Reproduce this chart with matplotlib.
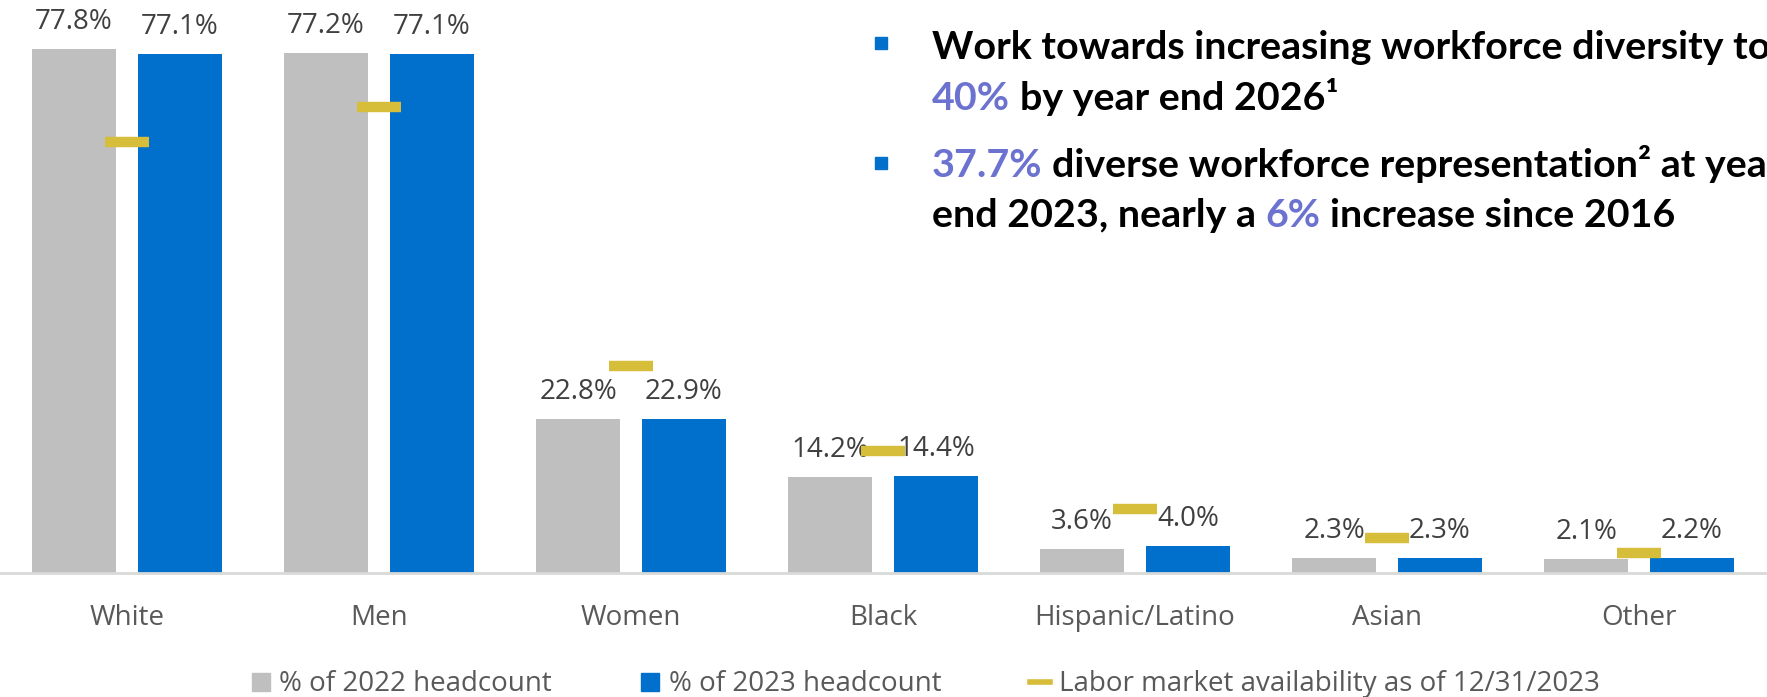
import matplotlib
matplotlib.use("Agg")
import matplotlib.pyplot as plt
from matplotlib.lines import Line2D
from matplotlib.patches import Rectangle
import numpy as np

categories = ["White", "Men", "Women", "Black", "Hispanic/Latino", "Asian", "Other"]
headcount_2022 = [77.8, 77.2, 22.8, 14.2, 3.6, 2.3, 2.1]
headcount_2023 = [77.1, 77.1, 22.9, 14.4, 4.0, 2.3, 2.2]
labor_market = [64.0, 69.2, 30.7, 18.1, 9.5, 5.2, 2.9]

GRAY = "#BFBFBF"
BLUE = "#0070CC"
GOLD = "#D6BD3A"
PERI = "#6B72CF"

W, H = 1767, 697
fig = plt.figure(figsize=(W / 100, H / 100), dpi=100)
ax = fig.add_axes([1 / W, (H - 573) / H, 1764 / W, 573 / H])

x = np.arange(len(categories))
bw = 0.333
off = 0.21
b1 = ax.bar(x - off, headcount_2022, bw, color=GRAY, zorder=2)
b2 = ax.bar(x + off, headcount_2023, bw, color=BLUE, zorder=2)
ax.hlines(labor_market, x - 0.0875, x + 0.0875, color=GOLD, lw=7.5, zorder=4,
          capstyle="butt")

lab_font = dict(family="Open Sans", size=20, color="#404040")
for bars, vals in ((b1, headcount_2022), (b2, headcount_2023)):
    for rect, v in zip(bars, vals):
        ax.annotate(f"{v:.1f}%", (rect.get_x() + rect.get_width() / 2, v),
                    xytext=(0, 14.4), textcoords="offset points",
                    ha="center", va="baseline", zorder=3, **lab_font)

ax.set_xlim(-0.5, len(categories) - 0.5)
ax.set_ylim(0, 573 / 6.735)
ax.set_yticks([])
ax.set_xticks(x)
ax.set_xticklabels(categories, family="Open Sans", fontsize=20, color="#595959")
ax.tick_params(axis="x", length=0, pad=22.5)
for s in ("top", "right", "left"):
    ax.spines[s].set_visible(False)
ax.spines["bottom"].set_color("#D9D9D9")
ax.spines["bottom"].set_linewidth(2)

handles = [
    Line2D([], [], marker="s", ls="none", color=GRAY, markersize=13),
    Line2D([], [], marker="s", ls="none", color=BLUE, markersize=13),
    Line2D([], [], color=GOLD, lw=4),
]
fig.legend(handles, ["% of 2022 headcount", "% of 2023 headcount",
                     "Labor market availability as of 12/31/2023"],
           loc="center", bbox_to_anchor=(0.5235, 0.018), ncol=3, frameon=False,
           prop=dict(family="Open Sans", size=20), labelcolor="#595959",
           handlelength=0.72, handletextpad=0.3, columnspacing=3.2)

# bullet text block
tfont = dict(family=["Lato", "DejaVu Sans"], size=28.4, weight="bold")
renderer = fig.canvas.get_renderer()
t1 = fig.text(0, 0, "x x", **tfont)
t2 = fig.text(0, 0, "xx", **tfont)
space_px = (t1.get_window_extent(renderer).width
            - t2.get_window_extent(renderer).width)
t1.remove()
t2.remove()


def rich_line(x0, y_top, parts):
    y = 1 - y_top / H
    prev = None
    gap = 0
    for s, c in parts:
        lead = s.startswith(" ")
        txt = s.strip()
        if prev is None:
            prev = fig.text(x0 / W, y, txt, color=c, va="baseline", ha="left", **tfont)
        else:
            g = space_px if (gap or lead) else 0
            prev = ax.annotate(txt, xy=(1, 0), xycoords=prev, xytext=(g, 0),
                               textcoords="offset pixels", va="bottom", ha="left",
                               color=c, annotation_clip=False, **tfont)
        gap = s.endswith(" ")


rich_line(932, 59, [("Work towards increasing workforce diversity to", "black")])
rich_line(932, 110, [("40%", PERI), (" by year end 2026\u00b9", "black")])
rich_line(932, 177, [("37.7%", PERI),
                     (" diverse workforce representation\u00b2 at year", "black")])
rich_line(932, 227, [("end 2023, nearly a ", "black"), ("6%", PERI),
                     (" increase since 2016", "black")])

for top in (37, 157):
    fig.add_artist(Rectangle((875 / W, 1 - (top + 12) / H), 12 / W, 12 / H,
                             transform=fig.transFigure, color=BLUE))

fig.savefig("out.png", dpi=100)
